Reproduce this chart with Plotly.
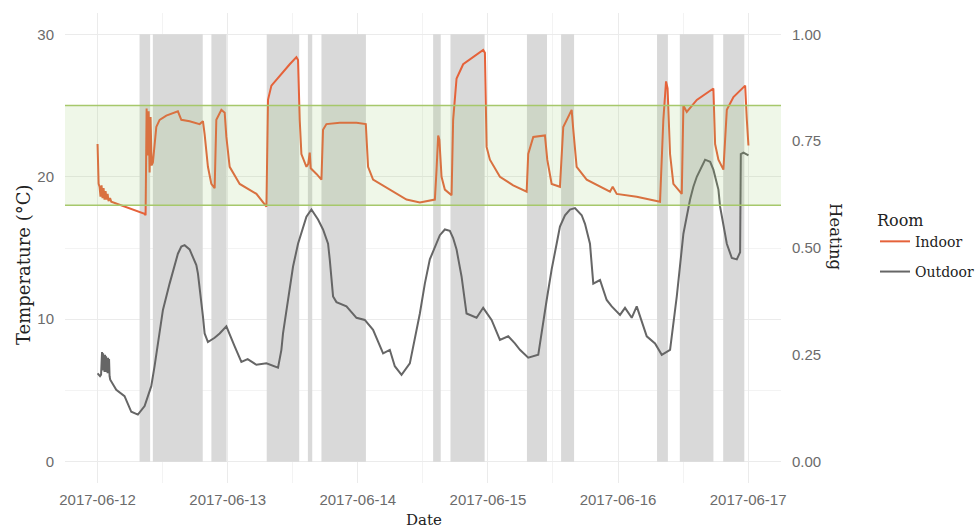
import pandas as pd
import plotly.graph_objects as go

START = pd.Timestamp("2017-06-12 00:00")

# Indoor temperature (°C), hours since start
indoor_hours = [0.0, 0.2, 0.37, 0.55, 0.74, 0.92, 1.11, 1.29, 1.48, 1.66, 1.85, 2.03, 2.31, 2.53,
                8.68, 8.86, 9.05, 9.23, 9.42, 9.60, 9.78, 9.97, 10.21, 10.84, 11.45, 12.68, 14.82,
                15.45, 16.98, 18.83, 19.44, 19.75, 20.36, 20.99, 21.60, 21.91, 22.84, 23.45, 23.76,
                24.37, 26.22, 29.30, 31.15, 31.44, 32.07, 33.60, 35.45, 36.68, 36.98, 37.29, 37.60,
                38.53, 38.86, 39.14, 39.32, 40.38, 41.30, 41.59, 42.22, 44.68, 47.76, 49.48, 49.90,
                50.82, 53.91, 56.99, 59.45, 62.22, 62.53, 62.83, 63.05, 63.45, 64.06, 65.30, 65.59,
                66.22, 67.44, 69.29, 71.13, 71.45, 71.76, 72.37, 74.22, 76.67, 79.15, 79.44, 80.37,
                82.52, 82.95, 83.76, 85.29, 85.90, 87.45, 87.75, 88.37, 90.22, 92.68, 94.52, 95.02,
                95.76, 99.45, 103.75, 104.36, 104.86, 105.14, 105.60, 106.21, 107.76, 108.06,
                108.68, 110.53, 113.59, 113.91, 114.52, 115.44, 116.07, 117.29, 119.45, 119.76,
                120.06]
indoor_temp = [22.3, 19.5, 19.3, 18.6, 19.4, 18.5, 19.2, 18.4, 19.0, 18.4, 18.8, 18.3, 18.5, 18.25,
               17.4, 17.3, 24.8, 21.5, 24.6, 20.3, 24.2, 20.8, 21.0, 23.5, 24.0, 24.3, 24.6,
               24.0, 23.9, 23.7, 23.9, 23.0, 20.7, 19.5, 19.2, 24.0, 24.7, 24.5, 22.8,
               20.7, 19.5, 18.8, 17.9, 25.4, 26.4, 27.1, 27.9, 28.4, 28.2, 24.0, 21.6,
               20.7, 20.9, 21.7, 20.6, 20.2, 19.8, 23.3, 23.7, 23.8, 23.8, 23.7, 20.7,
               19.8, 19.1, 18.4, 18.2, 18.4, 20.5, 22.9, 22.6, 20.0, 19.1, 18.7, 24.0,
               26.9, 27.9, 28.4, 28.9, 28.7, 22.1, 21.2, 20.0, 19.4, 18.95, 21.6, 22.8,
               22.9, 21.2, 19.5, 19.3, 23.5, 24.7, 23.3, 20.7, 19.8, 19.3, 18.95, 19.3,
               18.8, 18.6, 18.25, 24.0, 26.7, 26.2, 21.6, 19.5, 18.8, 25.0,
               24.55, 25.4, 26.2, 22.3, 21.2, 20.5, 24.7, 25.6, 26.4, 24.0,
               22.2]

# Outdoor temperature (°C), hours since start
outdoor_hours = [0.0, 0.46, 0.65, 0.83, 0.92, 1.02, 1.11, 1.20, 1.29, 1.38, 1.48, 1.57, 1.66, 1.75,
                 1.85, 1.94, 2.03, 2.12, 2.22, 2.34, 3.45, 4.98, 6.22, 7.44, 8.68, 9.91, 10.52,
                 11.45, 12.06, 13.29, 14.22, 14.82, 15.45, 16.06, 16.98, 17.59, 18.22, 18.52,
                 18.83, 19.44, 19.75, 20.36, 21.60, 22.52, 23.76, 24.37,
                 25.29, 26.53, 27.69, 29.30, 31.15, 33.29, 33.91, 34.21, 35.13, 36.06, 36.98,
                 37.90, 38.53, 39.45, 40.67, 41.59, 42.52, 42.83, 43.44, 44.07, 45.91, 47.76,
                 49.29, 50.82, 52.67, 53.91, 54.83, 56.07, 57.60, 59.45, 60.37, 61.29, 62.53,
                 63.14, 64.06, 64.98, 65.59, 66.22, 66.70, 67.14, 68.06, 69.91,
                 71.13, 72.68, 74.22, 75.75, 76.98, 77.91, 79.44, 81.29, 82.84, 83.76, 84.68,
                 85.29, 86.22, 87.14, 88.06, 89.30, 89.91, 90.83, 91.44, 92.68, 93.91, 94.84,
                 96.37, 97.29, 98.53, 99.45, 101.30, 102.83, 104.07, 105.60, 106.84, 108.06,
                 109.29, 109.90, 110.53, 112.06, 113.00, 113.59, 114.52,
                 114.83, 116.07, 116.99, 117.91, 118.52, 118.65, 119.14, 120.06]
outdoor_temp = [6.2, 6.0, 6.1, 7.7, 6.4, 7.6, 6.4, 7.4, 6.3, 7.5, 6.4, 7.4, 6.3, 7.3,
                6.2, 7.3, 6.2, 7.2, 6.0, 5.75, 5.05, 4.6, 3.5, 3.3, 3.9, 5.3, 6.7,
                9.0, 10.65, 12.5, 13.8, 14.6, 15.1, 15.2, 14.9, 14.4, 13.8, 13.2,
                12.3, 10.2, 9.0, 8.4, 8.7, 9.0, 9.5, 8.9,
                8.1, 7.0, 7.2, 6.8, 6.9, 6.6, 7.85, 9.0, 11.35, 13.7, 15.3,
                16.5, 17.2, 17.7, 17.0, 16.3, 15.3, 14.2, 11.6, 11.2, 10.9, 10.1,
                9.95, 9.25, 7.6, 7.85, 6.7, 6.1, 6.9, 10.4, 12.5, 14.2, 15.3,
                15.9, 16.3, 16.2, 15.7, 14.9, 13.9, 13.0, 10.4, 10.1,
                10.8, 9.95, 8.55, 8.8, 8.3, 7.85, 7.3, 7.5, 11.35, 13.5, 15.3,
                16.5, 17.3, 17.7, 17.8, 17.3, 16.7, 15.3, 12.5, 12.75, 11.35, 10.9,
                10.3, 10.8, 10.1, 10.9, 8.8, 8.3, 7.5, 7.85, 11.6, 16.0,
                18.4, 19.3, 20.0, 21.2, 21.05, 20.5, 19.1,
                17.9, 15.3, 14.3, 14.2, 14.7, 21.6, 21.7, 21.5]

# Heating switched on: start/end, hours since start
heating_on = [7.75, 10.2, 21.0, 31.2, 38.8, 41.3, 61.9, 65.1, 79.2, 85.5, 103.2, 107.4, 115.4]
heating_off = [9.7, 19.4, 23.8, 37.2, 39.6, 49.5, 63.3, 71.4, 82.9, 87.9, 105.2, 113.6, 119.3]

# Comfort band (°C)
comfort_low, comfort_high = 18, 25

temp_ticks = [0, 10, 20, 30]
heating_ticks = [0, 0.25, 0.5, 0.75, 1.0]
date_ticks = ["2017-06-12", "2017-06-13", "2017-06-14", "2017-06-15", "2017-06-16", "2017-06-17"]


def to_time(hours):
    return [START + pd.Timedelta(hours=h) for h in hours]


# heating status as a 0/1 step series
heat_h, heat_v = [], []
for a, b in zip(heating_on, heating_off):
    heat_h += [a, a, b, b]
    heat_v += [0, 1, 1, 0]

INDOOR_COLOR = "#E5623A"
OUTDOOR_COLOR = "#666666"
SERIF = "DejaVu Serif"
SANS = "Liberation Sans"
TICK_COLOR = "#6b6b6b"
GRID = "#ebebeb"

fig = go.Figure()

fig.add_trace(go.Scatter(
    x=to_time(heat_h), y=heat_v, yaxis="y", mode="lines",
    line=dict(width=0, color="#d9d9d9"), fill="tozeroy", fillcolor="#d9d9d9",
    showlegend=False, hoverinfo="skip",
))
fig.add_trace(go.Scatter(
    x=to_time(indoor_hours), y=indoor_temp, yaxis="y2", mode="lines", name="Indoor",
    line=dict(color=INDOOR_COLOR, width=2), legendgroup="a",
))
fig.add_trace(go.Scatter(
    x=to_time(outdoor_hours), y=outdoor_temp, yaxis="y2", mode="lines", name="Outdoor",
    line=dict(color=OUTDOOR_COLOR, width=2), legendgroup="b",
))

# comfort band
fig.add_shape(type="rect", xref="paper", x0=0, x1=1, yref="y2", y0=comfort_low, y1=comfort_high,
              fillcolor="rgba(150,200,100,0.15)", line=dict(width=0), layer="above")
for level in (comfort_low, comfort_high):
    fig.add_shape(type="line", xref="paper", x0=0, x1=1, yref="y2", y0=level, y1=level,
                  line=dict(color="#a6c86b", width=1.5), layer="above")

t_first, t_last = min(indoor_hours + outdoor_hours), max(indoor_hours + outdoor_hours)
pad = 0.05 * (t_last - t_first)

fig.update_layout(
    width=978, height=531,
    margin=dict(l=65, r=197, t=13, b=48),
    paper_bgcolor="white", plot_bgcolor="white",
    xaxis=dict(
        type="date",
        range=[START + pd.Timedelta(hours=t_first - pad), START + pd.Timedelta(hours=t_last + pad)],
        tickvals=pd.to_datetime(date_ticks), ticktext=date_ticks,
        showgrid=True, gridcolor=GRID, gridwidth=1,
        minor=dict(dtick=43200000, tick0="2017-06-12", showgrid=True, gridcolor="#f3f3f3", gridwidth=1),
        showline=False, zeroline=False, ticks="",
        tickfont=dict(family=SANS, size=15, color=TICK_COLOR), ticklabelstandoff=6,
    ),
    yaxis=dict(
        side="right", range=[-0.05, 1.05], tickvals=heating_ticks, tickformat=".2f",
        showgrid=False, zeroline=False, showline=False, ticks="",
        tickfont=dict(family=SANS, size=15, color=TICK_COLOR), ticklabelstandoff=10,
    ),
    yaxis2=dict(
        overlaying="y", side="left", range=[-1.5, 31.5], tickvals=temp_ticks,
        showgrid=True, gridcolor=GRID, gridwidth=1,
        minor=dict(dtick=5, tick0=0, showgrid=True, gridcolor="#f3f3f3", gridwidth=1),
        zeroline=False, showline=False, ticks="",
        tickfont=dict(family=SANS, size=15, color=TICK_COLOR), ticklabelstandoff=10,
    ),
    legend=dict(
        title=dict(text="Room", font=dict(family=SERIF, size=16, color="#222")),
        font=dict(family=SERIF, size=14, color="#222"),
        xref="container", x=0.8947, y=0.5916, xanchor="left", yanchor="top",
        tracegroupgap=9, bgcolor="rgba(0,0,0,0)",
    ),
    annotations=[
        dict(text="Temperature (°C)", xref="paper", yref="paper", x=-0.0587, y=0.4638,
             textangle=-90, showarrow=False, font=dict(family=SERIF, size=18, color="#222"),
             xanchor="center", yanchor="middle"),
        dict(text="Date", xref="paper", yref="paper", x=0.5014, y=-0.0787,
             showarrow=False, font=dict(family=SERIF, size=15, color="#222"),
             xanchor="center", yanchor="middle"),
        dict(text="Heating", xref="paper", yref="paper", x=1.0768, y=0.5234,
             textangle=90, showarrow=False, font=dict(family=SERIF, size=16.5, color="#222"),
             xanchor="center", yanchor="middle"),
    ],
)

fig.write_html("out.html")
